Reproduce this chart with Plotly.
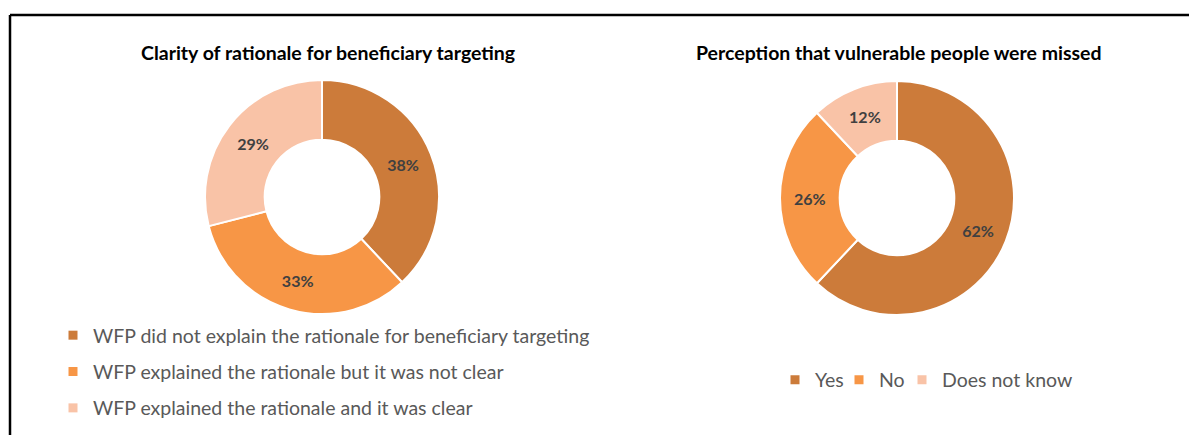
import plotly.graph_objects as go

# Data
left_title = "Clarity of rationale for beneficiary targeting"
left_labels = [
    "WFP did not explain the rationale for beneficiary targeting",
    "WFP explained the rationale but it was not clear",
    "WFP explained the rationale and it was clear",
]
left_values = [38, 33, 29]

right_title = "Perception that vulnerable people were missed"
right_labels = ["Yes", "No", "Does not know"]
right_values = [62, 26, 12]

colors = ["#CC7B3A", "#F79646", "#F9C3A7"]
FONT = "Lato, 'Open Sans', sans-serif"
OFF = 8  # page body margin
W, H = 1197 - OFF, 435 - OFF

def px(x):
    return (x - OFF) / W

def py(y):
    return 1 - (y - OFF) / H

fig = go.Figure()

def dom(cx, cy, r):
    return dict(x=[px(cx - r), px(cx + r)], y=[py(cy + r), py(cy - r)])

for labels, values, d in [
    (left_labels, left_values, dom(322, 197, 117)),
    (right_labels, right_values, dom(897, 198, 117)),
]:
    fig.add_trace(go.Pie(
        labels=labels, values=values, hole=0.49, sort=False, direction="clockwise",
        rotation=0, domain=d, showlegend=False,
        marker=dict(colors=colors, line=dict(color="white", width=2)),
        texttemplate="%{percent:.0%}", textposition="inside",
        insidetextorientation="horizontal",
        textfont=dict(family=FONT, size=16, color="#404040", weight="bold"),
        hoverinfo="label+percent",
    ))

legend_font = dict(family=FONT, size=19.5, color="#595959")

# legend entries, left chart (vertical)
for i, lab in enumerate(left_labels):
    fig.add_trace(go.Scatter(x=[None], y=[None], mode="markers", name=lab,
                             marker=dict(symbol="square", size=9, color=colors[i]),
                             legend="legend", legendgroup="L%d" % i))

# legend entries, right chart (one row, one legend per entry)
right_legend_x = [775, 839, 902]
legend_layout = {}
for i, lab in enumerate(right_labels):
    key = "legend%d" % (i + 2)
    fig.add_trace(go.Scatter(x=[None], y=[None], mode="markers", name=lab,
                             marker=dict(symbol="square", size=9, color=colors[i]),
                             legend=key))
    legend_layout[key] = dict(x=px(right_legend_x[i]), y=py(380), xanchor="left",
                              yanchor="middle", orientation="h", font=legend_font,
                              bgcolor="rgba(0,0,0,0)", itemclick=False)

fig.update_layout(
    width=W, height=H, margin=dict(l=0, r=0, t=0, b=0),
    paper_bgcolor="white", plot_bgcolor="white",
    font=dict(family=FONT),
    xaxis=dict(visible=False), yaxis=dict(visible=False),
    legend=dict(x=px(53), y=py(316), xanchor="left", yanchor="top",
                orientation="v", tracegroupgap=8, font=legend_font,
                bgcolor="rgba(0,0,0,0)", itemclick=False),
    annotations=[
        dict(text="<b>%s</b>" % left_title, x=px(328), y=py(52), xref="paper", yref="paper",
             xanchor="center", yanchor="middle",
             showarrow=False, font=dict(family=FONT, size=19.5, color="#000000")),
        dict(text="<b>%s</b>" % right_title, x=px(899), y=py(52), xref="paper", yref="paper",
             xanchor="center", yanchor="middle",
             showarrow=False, font=dict(family=FONT, size=19.5, color="#000000")),
    ],
    shapes=[
        dict(type="line", xref="paper", yref="paper", x0=px(10), x1=1.0, y0=py(15), y1=py(15),
             line=dict(color="black", width=2.5)),
        dict(type="line", xref="paper", yref="paper", x0=px(10), x1=px(10), y0=0, y1=py(15),
             line=dict(color="black", width=2.5)),
    ],
    **legend_layout,
)

fig.write_html("out.html")
